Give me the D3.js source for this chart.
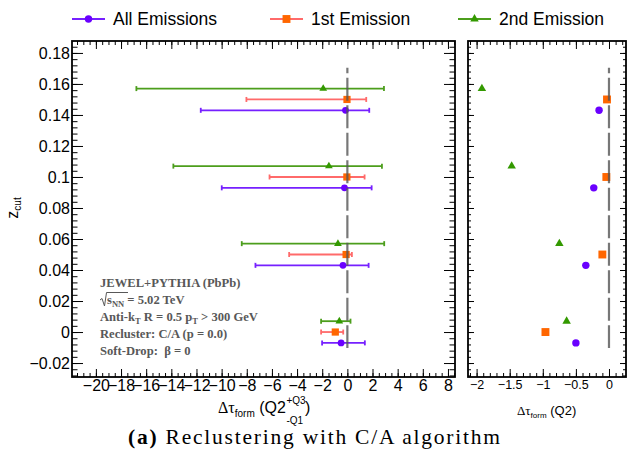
<!DOCTYPE html>
<html><head><meta charset="utf-8">
<script src="https://cdn.jsdelivr.net/npm/d3@7/dist/d3.min.js"></script>
<style>body{margin:0;background:#fff}svg{display:block}</style>
</head><body><svg id="c" width="627" height="461"></svg>
<script>
// ---------------- data ----------------
const zcut = [0.15, 0.10, 0.05, 0.00];
const seriesNames = ["All Emissions", "1st Emission", "2nd Emission"];
const allCenter  = [-0.15, -0.23, -0.35, -0.50];
const allLow     = [-11.66, -9.99, -7.31, -2.01];
const allHigh    = [1.74, 1.93, 1.69, 1.39];
const firstCenter = [-0.03, -0.04, -0.10, -0.96];
const firstLow    = [-8.03, -6.19, -4.63, -2.09];
const firstHigh   = [1.50, 1.37, 0.36, -0.33];
const secondCenter = [-1.92, -1.47, -0.75, -0.64];
const secondLow    = [-16.78, -13.84, -8.40, -2.09];
const secondHigh   = [2.91, 2.75, 2.93, 0.25];
const leftXTicks  = [-20,-18,-16,-14,-12,-10,-8,-6,-4,-2,0,2,4,6,8];
const rightXTicks = [-2,-1.5,-1,-0.5,0];
const yTicks = [-0.02,0,0.02,0.04,0.06,0.08,0.1,0.12,0.14,0.16,0.18];
const refLineX = 0, refLineZ = [-0.0103, 0.1705];

// ---------------- styles ----------------
const markerColor = ["#6a00ff", "#ff6600", "#339900"];
const lineColor   = ["#7620ff", "#ff6a6a", "#4c9e1c"];
const symbols = [d3.symbolCircle, d3.symbolSquare, d3.symbolTriangle];
const symSize = [36, 52, 26];
const zOffset = [-0.007, 0, 0.007];
const series = [
  {c: allCenter, lo: allLow, hi: allHigh},
  {c: firstCenter, lo: firstLow, hi: firstHigh},
  {c: secondCenter, lo: secondLow, hi: secondHigh}
];

const svg = d3.select("#c");
const F = "'Liberation Sans', Arial, Helvetica, sans-serif";
const SERIF = "'Liberation Serif', 'Times New Roman', serif";
const fmt = d3.format("");

const L = {x0: 72, x1: 455, y0: 41, y1: 377};
const R = {x0: 468, x1: 626};
const xL = d3.scaleLinear().domain([-21.9, 8.56]).range([L.x0, L.x1]);
const xR = d3.scaleLinear().domain([-2.13, 0.257]).range([R.x0, R.x1]);
const y  = d3.scaleLinear().domain([-0.029, 0.1877]).range([L.y1, L.y0]);

const yMinor = d3.range(-7, 47).map(i => i * 0.004).filter(v => v > -0.029 && v < 0.1877);
const xLMinor = d3.range(-43, 18).map(i => i * 0.5).filter(v => v > -21.9 && v < 8.56);
const xRMinor = d3.range(-21, 3).map(i => i * 0.1).filter(v => v > -2.13 && v < 0.257);

function styleAxis(g, fs) {
  g.select(".domain").remove();
  g.selectAll("line").attr("stroke", "#000").attr("stroke-width", 1);
  g.selectAll("text").attr("font-family", F).attr("font-size", fs).attr("fill", "#000");
}
function axes(xs, xr, xTicks, xMinor, tkX, tkY, fsX, yLabels) {
  let g = svg.append("g").attr("transform", `translate(0,${L.y1})`)
    .call(d3.axisBottom(xs).tickValues(xMinor).tickSize(-tkX/2).tickFormat(""));
  styleAxis(g, fsX);
  g = svg.append("g").attr("transform", `translate(0,${L.y1})`)
    .call(d3.axisBottom(xs).tickValues(xTicks).tickSize(-tkX).tickPadding(3).tickFormat(fmt));
  styleAxis(g, fsX);
  g = svg.append("g").attr("transform", `translate(0,${L.y0})`)
    .call(d3.axisTop(xs).tickValues(xMinor).tickSize(-tkX/2).tickFormat(""));
  styleAxis(g, fsX);
  g = svg.append("g").attr("transform", `translate(0,${L.y0})`)
    .call(d3.axisTop(xs).tickValues(xTicks).tickSize(-tkX).tickFormat(""));
  styleAxis(g, fsX);
  g = svg.append("g").attr("transform", `translate(${xr[0]},0)`)
    .call(d3.axisLeft(y).tickValues(yMinor).tickSize(-tkY/2).tickFormat(""));
  styleAxis(g, 16);
  g = svg.append("g").attr("transform", `translate(${xr[0]},0)`)
    .call(d3.axisLeft(y).tickValues(yTicks).tickSize(-tkY).tickPadding(2).tickFormat(yLabels ? fmt : ""));
  styleAxis(g, 16);
  g = svg.append("g").attr("transform", `translate(${xr[1]},0)`)
    .call(d3.axisRight(y).tickValues(yMinor).tickSize(-tkY/2).tickFormat(""));
  styleAxis(g, 16);
  g = svg.append("g").attr("transform", `translate(${xr[1]},0)`)
    .call(d3.axisRight(y).tickValues(yTicks).tickSize(-tkY).tickFormat(""));
  styleAxis(g, 16);
  svg.append("rect").attr("x", xr[0]).attr("y", L.y0).attr("width", xr[1]-xr[0]).attr("height", L.y1-L.y0)
    .attr("fill", "none").attr("stroke", "#000").attr("stroke-width", 1.8);
}

function refLine(xs) {
  svg.append("line").attr("x1", xs(refLineX)).attr("x2", xs(refLineX))
    .attr("y1", y(refLineZ[1])).attr("y2", y(refLineZ[0]))
    .attr("stroke", "#555").attr("stroke-opacity", 0.8).attr("stroke-width", 2.2)
    .attr("stroke-dasharray", "23,4.5").attr("stroke-dashoffset", 17.3);
}

// ---------- left panel ----------
series.forEach((s, k) => {
  const g = svg.append("g");
  zcut.forEach((z, i) => {
    const yy = y(z + zOffset[k]);
    g.append("line").attr("x1", xL(s.lo[i])).attr("x2", xL(s.hi[i])).attr("y1", yy).attr("y2", yy)
      .attr("stroke", lineColor[k]).attr("stroke-width", 1.8);
    [s.lo[i], s.hi[i]].forEach(v => g.append("line").attr("x1", xL(v)).attr("x2", xL(v))
      .attr("y1", yy - 2.5).attr("y2", yy + 2.5).attr("stroke", lineColor[k]).attr("stroke-width", 1.8));
  });
});
series.forEach((s, k) => {
  svg.append("g").selectAll("path").data(zcut).join("path")
    .attr("transform", (z, i) => `translate(${xL(s.c[i])},${y(z + zOffset[k])})`)
    .attr("d", d3.symbol().type(symbols[k]).size(symSize[k])).attr("fill", markerColor[k]);
});
refLine(xL);
axes(xL, [L.x0, L.x1], leftXTicks, xLMinor, 8, 11, 16, true);

// ---------- right panel ----------
series.forEach((s, k) => {
  svg.append("g").selectAll("path").data(zcut).join("path")
    .attr("transform", (z, i) => `translate(${xR(s.c[i])},${y(z + zOffset[k])})`)
    .attr("d", d3.symbol().type(symbols[k]).size(symSize[k] * 1.2)).attr("fill", markerColor[k]);
});
refLine(xR);
axes(xR, [R.x0, R.x1], rightXTicks, xRMinor, 8, 6, 12.5, false);

// ---------- legend ----------
const legX = [72, 270, 458];
seriesNames.forEach((n, k) => {
  const g = svg.append("g").attr("transform", `translate(${legX[k]},19)`);
  g.append("line").attr("x1", 0).attr("x2", 33).attr("stroke", lineColor[k]).attr("stroke-width", 2);
  g.append("path").attr("transform", "translate(16.5,0)")
    .attr("d", d3.symbol().type(symbols[k]).size(symSize[k] * 1.2)).attr("fill", markerColor[k]);
  g.append("text").attr("x", 41).attr("y", 6.3).text(n)
    .attr("font-family", F).attr("font-size", 17.5).attr("fill", "#000");
});

// ---------- axis titles ----------
const yt = svg.append("text").attr("transform", "translate(18,208) rotate(-90)")
  .attr("text-anchor", "middle").attr("font-family", F).attr("font-size", 16);
yt.append("tspan").text("z");
yt.append("tspan").attr("font-size", 10).attr("dy", 3).text("cut");

const lt = svg.append("text").attr("x", 218).attr("y", 413).attr("font-family", F).attr("font-size", 16);
lt.append("tspan").attr("font-family", SERIF).text("Δτ");
lt.append("tspan").attr("font-size", 10).attr("dy", 4).text("form");
lt.append("tspan").attr("dy", -4).text(" (Q2");
const ltEnd = lt.node().getBBox().x + lt.node().getBBox().width;
svg.append("text").attr("x", ltEnd + 0.5).attr("y", 404).attr("font-family", F).attr("font-size", 10).text("+Q3");
svg.append("text").attr("x", ltEnd + 0.5).attr("y", 424).attr("font-family", F).attr("font-size", 10).text("-Q1");
svg.append("text").attr("x", ltEnd + 19).attr("y", 413).attr("font-family", F).attr("font-size", 16).text(")");

const rt = svg.append("text").attr("x", 517).attr("y", 415).attr("font-family", F).attr("font-size", 13);
rt.append("tspan").attr("font-family", SERIF).text("Δτ");
rt.append("tspan").attr("font-size", 8).attr("dy", 3).text("form");
rt.append("tspan").attr("dy", -3).text(" (Q2)");

// ---------- annotation ----------
const annColor = "#585858";
const ann = svg.append("g").attr("font-family", SERIF).attr("font-weight", "bold")
  .attr("font-size", 12.6).attr("fill", annColor);
ann.append("text").attr("x", 100).attr("y", 287).text("JEWEL+PYTHIA (PbPb)");
ann.append("path").attr("d", "M100,300 L102,298.5 L104.5,306 L106.5,292.5 L128,292.5")
  .attr("fill", "none").attr("stroke", annColor).attr("stroke-width", 1);
const l2 = ann.append("text").attr("x", 107).attr("y", 304);
l2.append("tspan").text("s");
l2.append("tspan").attr("font-size", 8.5).attr("dy", 2.5).text("NN");
l2.append("tspan").attr("dy", -2.5).text(" = 5.02 TeV");
const l3 = ann.append("text").attr("x", 100).attr("y", 321);
l3.append("tspan").text("Anti-k");
l3.append("tspan").attr("font-size", 8.5).attr("dy", 3).text("T");
l3.append("tspan").attr("dy", -3).text(" R = 0.5 p");
l3.append("tspan").attr("font-size", 8.5).attr("dy", 3).text("T");
l3.append("tspan").attr("dy", -3).text(" > 300 GeV");
ann.append("text").attr("x", 100).attr("y", 338).text("Recluster: C/A (p = 0.0)");
ann.append("text").attr("x", 100).attr("y", 355).attr("xml:space", "preserve").text("Soft-Drop:  β = 0");

// ---------- caption ----------
const cap = svg.append("text").attr("x", 128).attr("y", 444).attr("font-family", SERIF)
  .attr("font-size", 21.5).attr("textLength", 372).attr("lengthAdjust", "spacing").attr("fill", "#000");
cap.append("tspan").attr("font-weight", "bold").text("(a)");
cap.append("tspan").text(" Reclustering with C/A algorithm");
</script></body></html>
